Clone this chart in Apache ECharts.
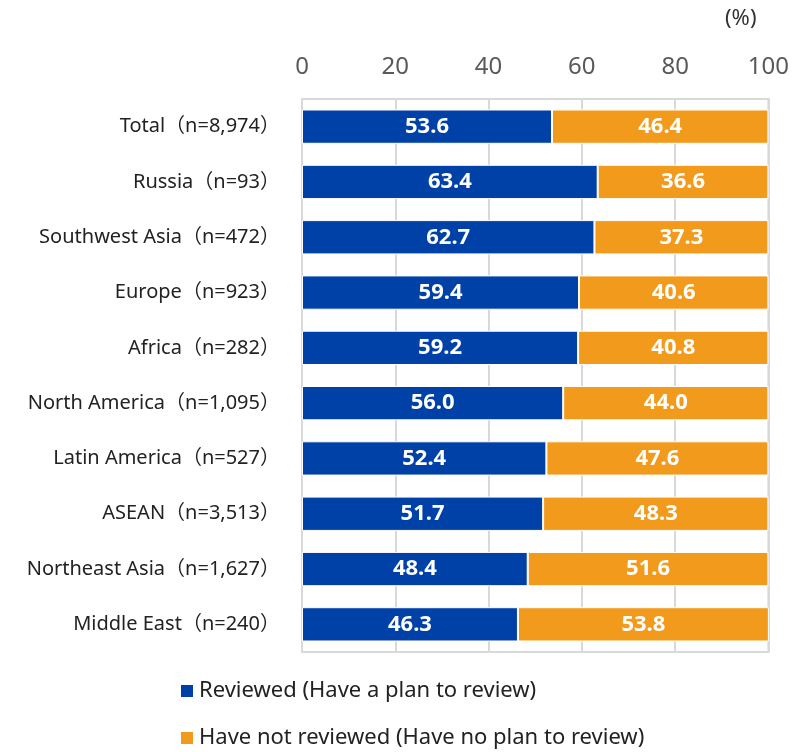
<!DOCTYPE html>
<html><head><meta charset="utf-8">
<script src="https://cdn.jsdelivr.net/npm/echarts@6/dist/echarts.min.js"></script>
<style>html,body{margin:0;padding:0;background:#fff}#c{width:792px;height:752px}</style>
</head><body><div id="c"></div>
<script>
const categories = ["Total（n=8,974）","Russia（n=93）","Southwest Asia（n=472）","Europe（n=923）","Africa（n=282）","North America（n=1,095）","Latin America（n=527）","ASEAN（n=3,513）","Northeast Asia（n=1,627）","Middle East（n=240）"];
const reviewed = [53.6,63.4,62.7,59.4,59.2,56.0,52.4,51.7,48.4,46.3];
const notReviewed = [46.4,36.6,37.3,40.6,40.8,44.0,47.6,48.3,51.6,53.8];
const seriesNames = ["Reviewed (Have a plan to review)","Have not reviewed (Have no plan to review)"];
const xTicks = [0,20,40,60,80,100];

const font = "'Noto Sans','Noto Sans CJK JP',sans-serif";
const chart = echarts.init(document.getElementById('c'), null, {renderer:'canvas'});
const lbl = {show:true, color:'#fff', fontWeight:'bold', fontSize:22, fontFamily:font, formatter:p=>p.value.toFixed(1)};
const legendBase = {orient:'vertical', left:179, itemWidth:14, itemHeight:14, icon:'rect', padding:0,
    textStyle:{fontSize:22, color:'#222', fontFamily:font}};
chart.setOption({
  animation:false,
  graphic:[{type:'text', left:725, top:8, style:{text:'(%)', fontSize:22, fill:'#333', fontFamily:font}}],
  grid:{left:302, right:23, top:99, bottom:100, containLabel:false, show:true, borderColor:'#d9d9d9', borderWidth:2},
  legend:[Object.assign({top:680, data:[seriesNames[0]]}, legendBase),
          Object.assign({top:727, data:[seriesNames[1]]}, legendBase)],
  xAxis:{type:'value', position:'top', min:0, max:100, interval:20,
    axisLabel:{fontSize:24, color:'#595959', fontFamily:font, margin:20, formatter:v=>xTicks.includes(v)?String(v):''},
    axisLine:{show:true, lineStyle:{color:'#d9d9d9', width:2}}, axisTick:{show:false},
    splitLine:{show:true, lineStyle:{color:'#d9d9d9', width:2}}},
  yAxis:{type:'category', data:categories, inverse:true,
    axisLabel:{fontSize:20, color:'#222', fontFamily:font, margin:22},
    axisLine:{show:true, lineStyle:{color:'#d9d9d9', width:2}}, axisTick:{show:false}},
  series:[
    {name:seriesNames[0], type:'bar', stack:'a', data:reviewed, barCategoryGap:'38%',
     itemStyle:{color:'#0041a8', borderColor:'#fff', borderWidth:1}, label:lbl},
    {name:seriesNames[1], type:'bar', stack:'a', data:notReviewed,
     itemStyle:{color:'#f29a1c', borderColor:'#fff', borderWidth:1}, label:lbl}
  ]
});
</script></body></html>
